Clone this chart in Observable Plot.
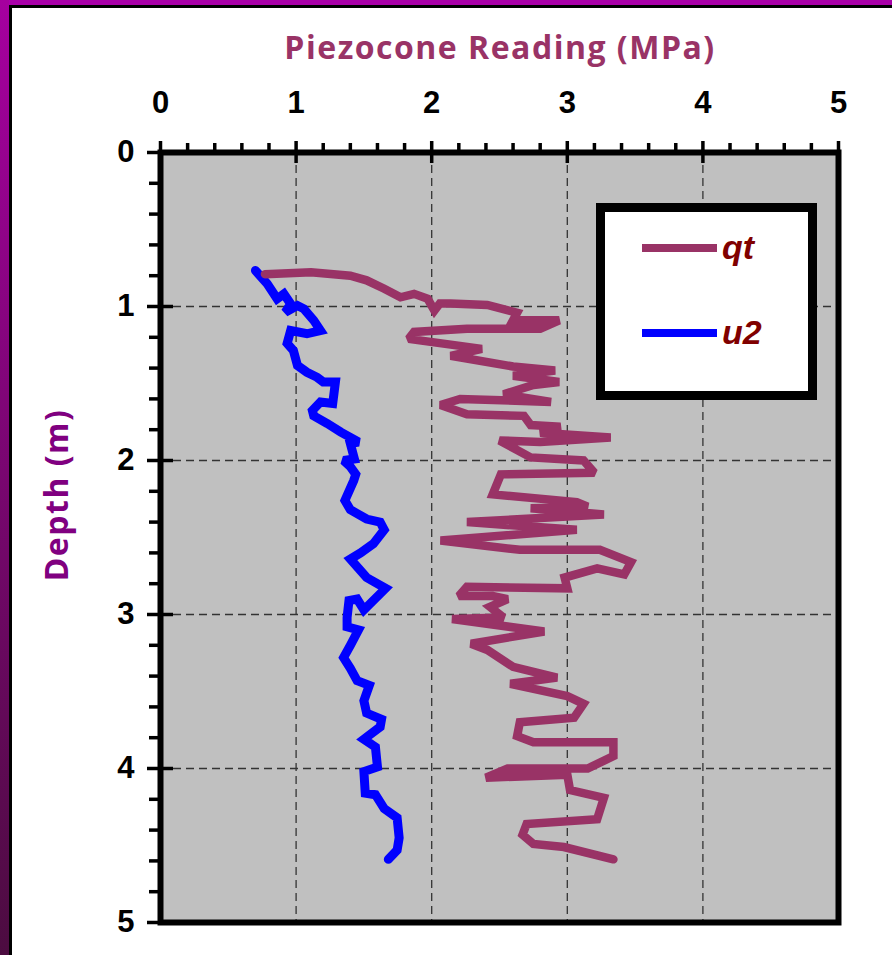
<!DOCTYPE html>
<html><head><meta charset="utf-8">
<script src="https://cdn.jsdelivr.net/npm/d3@7"></script>
<script src="https://cdn.jsdelivr.net/npm/@observablehq/plot@0.6"></script>
<style>
html,body{margin:0;padding:0;background:#fff;}
#wrap{position:relative;width:892px;height:955px;overflow:hidden;background:#fff;}
#bt{position:absolute;left:0;top:0;width:892px;height:5px;background:#a800a8;}
#btl{position:absolute;left:9px;top:5px;width:883px;height:2.5px;background:#000;}
#bl{position:absolute;left:0;top:0;width:9px;height:955px;background:linear-gradient(#a5009f,#4c0c40);}
#bll{position:absolute;left:9px;top:5px;width:2.5px;height:950px;background:#000;}
#chart{position:absolute;left:0;top:0;}
#title{position:absolute;top:25px;left:160px;width:680px;text-align:center;font-family:"Open Sans",sans-serif;font-weight:700;font-size:32px;letter-spacing:1.5px;color:#993366;white-space:nowrap;}
#ylabel{position:absolute;left:55px;top:495px;transform:translate(-50%,-50%) rotate(-90deg);font-family:"Open Sans",sans-serif;font-weight:700;font-size:32px;letter-spacing:1.5px;color:#800080;white-space:nowrap;}
#legend{position:absolute;left:596px;top:203px;width:221px;height:197px;box-sizing:border-box;border:9px solid #000;background:#fff;}
.sw{position:absolute;left:37px;width:75px;height:8px;}
.lt{position:absolute;left:117px;font-family:"Liberation Sans",Arial,sans-serif;font-weight:bold;font-style:italic;font-size:34px;color:#800000;line-height:1;}
</style></head>
<body>
<div id="wrap">
  <div id="bt"></div><div id="bl"></div><div id="btl"></div><div id="bll"></div>
  <div id="chart"></div>
  <div id="title">Piezocone Reading (MPa)</div>
  <div id="ylabel">Depth (m)</div>
  <div id="legend"></div>
</div>
<script>
// ---- data ----
const seriesNames = ["qt", "u2"];
const seriesColors = ["#993366", "#0000ff"];

const qtReading = [0.77,1.11,1.40,1.52,1.65,1.77,1.87,1.97,2.02,2.06,2.14,2.41,2.63,2.60,2.94,2.80,2.26,1.87,1.83,2.37,2.14,2.60,2.91,2.60,2.94,2.75,2.53,2.88,2.21,2.065,2.26,2.68,2.73,2.95,2.80,3.32,2.80,2.50,2.73,3.12,3.20,2.51,2.45,3.07,3.15,2.73,3.27,2.26,3.07,2.065,2.65,3.24,3.47,3.42,3.22,2.98,3.0,2.26,2.20,2.45,2.56,2.43,2.53,2.15,2.83,2.29,2.41,2.60,2.925,2.58,3.0,3.12,3.05,2.65,2.63,2.75,3.34,3.34,3.15,2.56,2.40,3.0,3.02,3.27,3.22,2.70,2.67,2.75,2.975,3.34];
const qtDepth = [0.79,0.777,0.80,0.83,0.885,0.94,0.918,0.95,1.026,0.98,0.98,0.99,1.04,1.09,1.09,1.145,1.145,1.165,1.21,1.275,1.32,1.39,1.415,1.45,1.49,1.51,1.57,1.62,1.60,1.64,1.70,1.71,1.77,1.78,1.82,1.85,1.88,1.87,1.98,2.0,2.08,2.09,2.22,2.27,2.30,2.31,2.35,2.40,2.45,2.52,2.58,2.58,2.66,2.74,2.70,2.76,2.83,2.82,2.88,2.88,2.90,2.95,3.02,3.03,3.11,3.19,3.23,3.34,3.41,3.45,3.53,3.58,3.67,3.70,3.79,3.83,3.83,3.92,4.0,4.0,4.06,4.04,4.14,4.19,4.33,4.36,4.43,4.49,4.51,4.59];

const u2Reading = [0.70,0.787,0.86,0.91,0.96,0.92,1.01,1.057,1.13,1.18,1.08,0.96,0.934,0.98,1.01,1.08,1.155,1.20,1.29,1.27,1.18,1.12,1.13,1.23,1.33,1.40,1.46,1.40,1.43,1.35,1.40,1.44,1.425,1.36,1.40,1.52,1.62,1.65,1.57,1.475,1.40,1.46,1.52,1.66,1.50,1.45,1.39,1.376,1.376,1.46,1.40,1.35,1.40,1.45,1.54,1.50,1.52,1.63,1.62,1.50,1.585,1.60,1.50,1.51,1.585,1.65,1.745,1.76,1.745,1.68];
const u2Depth = [0.766,0.853,0.95,0.918,0.983,1.037,0.994,1.015,1.09,1.156,1.177,1.156,1.24,1.286,1.383,1.427,1.46,1.49,1.49,1.63,1.62,1.675,1.71,1.76,1.816,1.85,1.88,1.89,1.99,2.0,2.04,2.09,2.13,2.26,2.32,2.38,2.40,2.45,2.54,2.60,2.64,2.70,2.76,2.83,2.97,2.90,2.91,3.02,3.08,3.10,3.20,3.28,3.35,3.43,3.46,3.56,3.64,3.68,3.73,3.81,3.86,3.99,4.02,4.16,4.17,4.26,4.32,4.45,4.53,4.59];

const majorTicks = [0, 1, 2, 3, 4, 5];
const gridTicks = [1, 2, 3, 4];
const minorTicks = [0.2,0.4,0.6,0.8,1.2,1.4,1.6,1.8,2.2,2.4,2.6,2.8,3.2,3.4,3.6,3.8,4.2,4.4,4.6,4.8];
const axisDomain = [0, 5];

// ---- build ----
const qt = qtReading.map((v, i) => ({reading: v, depth: qtDepth[i]}));
const u2 = u2Reading.map((v, i) => ({reading: v, depth: u2Depth[i]}));

const tickStyle = {stroke: "#000", strokeWidth: 3.5, strokeLinecap: "butt", label: null, tickFormat: () => ""};
const labelStyle = {fontSize: 31, fontWeight: "bold", fontFamily: "'Liberation Sans', Arial, sans-serif", fill: "#000", label: null, tickFormat: d3.format("d")};

const chart = Plot.plot({
  width: 892,
  height: 955,
  marginLeft: 160,
  marginRight: 54,
  marginTop: 152,
  marginBottom: 33,
  style: {background: "transparent", overflow: "visible"},
  x: {domain: axisDomain, axis: null},
  y: {domain: axisDomain, reverse: true, axis: null},
  marks: [
    Plot.frame({fill: "#c0c0c0", stroke: null}),
    Plot.gridX(gridTicks, {stroke: "#333", strokeOpacity: 1, strokeWidth: 1.3, strokeDasharray: "8,5"}),
    Plot.gridY(gridTicks, {stroke: "#333", strokeOpacity: 1, strokeWidth: 1.3, strokeDasharray: "8,5"}),
    Plot.line(u2, {x: "reading", y: "depth", stroke: seriesColors[1], strokeWidth: 9, curve: "linear", strokeLinejoin: "miter", strokeMiterlimit: 2}),
    Plot.line(qt, {x: "reading", y: "depth", stroke: seriesColors[0], strokeWidth: 8.5, curve: "linear", strokeLinejoin: "miter", strokeMiterlimit: 2}),
    Plot.frame({stroke: "#000", strokeWidth: 6}),
    Plot.axisX(minorTicks, {anchor: "top", tickSize: 10, ...tickStyle}),
    Plot.axisX(majorTicks, {anchor: "top", tickSize: 12, ...tickStyle}),
    Plot.axisX(majorTicks, {anchor: "top", tickSize: -10, ...tickStyle}),
    Plot.axisX(majorTicks, {anchor: "top", tickSize: 0, tickPadding: 40, ...labelStyle}),
    Plot.axisY(minorTicks, {anchor: "left", tickSize: 11, ...tickStyle}),
    Plot.axisY(majorTicks, {anchor: "left", tickSize: 13, ...tickStyle}),
    Plot.axisY(majorTicks, {anchor: "left", tickSize: -13, ...tickStyle}),
    Plot.axisY(majorTicks, {anchor: "left", tickSize: 0, tickPadding: 26, ...labelStyle})
  ]
});
document.getElementById("chart").append(chart);

// legend
const legend = document.getElementById("legend");
const rowTops = [36, 121];
seriesNames.forEach((name, i) => {
  const sw = document.createElement("div");
  sw.className = "sw";
  sw.style.top = (rowTops[i] - 4) + "px";
  sw.style.background = seriesColors[i];
  legend.append(sw);
  const t = document.createElement("div");
  t.className = "lt";
  t.style.top = (rowTops[i] - 18) + "px";
  t.textContent = name;
  legend.append(t);
});
</script>
</body></html>
